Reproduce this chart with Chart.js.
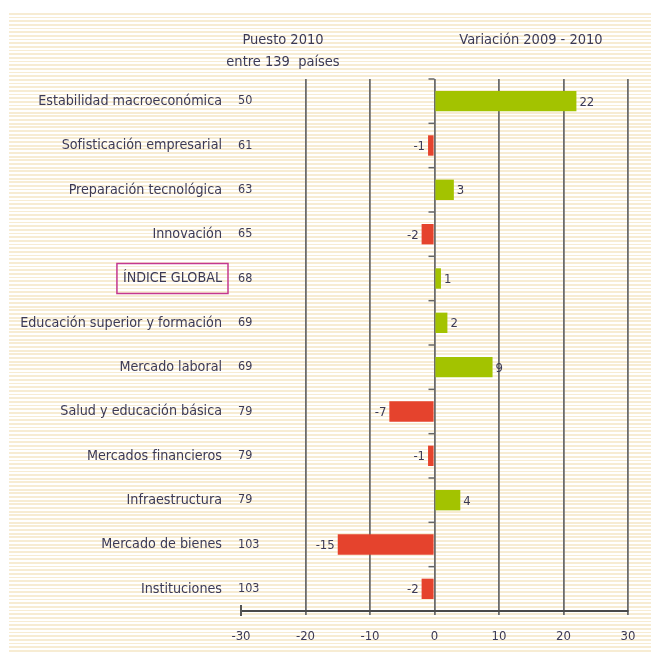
<!DOCTYPE html>
<html lang="es">
<head>
  <meta charset="UTF-8">
  <title>Puesto 2010 y variación 2009 - 2010</title>
  <script src="https://cdn.jsdelivr.net/npm/chart.js"></script>
  <style>
    body { margin: 0; background: #fff; }
    #wrap { position: relative; width: 651px; height: 654px; }
    #stripes {
      position: absolute; left: 9px; top: 13px; width: 642px; height: 641px;
      background: repeating-linear-gradient(to bottom, #f7ecd3 0, #f7ecd3 1.8px, #fff 1.8px, #fff 3.66px);
    }
    canvas { position: absolute; left: 0; top: 0; }
  </style>
</head>
<body>
  <div id="wrap">
    <div id="stripes"></div>
    <canvas id="chart" width="651" height="654"></canvas>
  </div>

  <script>
    const categories = [
      'Estabilidad macroeconómica', 'Sofisticación empresarial', 'Preparación tecnológica',
      'Innovación', 'ÍNDICE GLOBAL', 'Educación superior y formación', 'Mercado laboral',
      'Salud y educación básica', 'Mercados financieros', 'Infraestructura',
      'Mercado de bienes', 'Instituciones'
    ];
    const rank2010 = [50, 61, 63, 65, 68, 69, 69, 79, 79, 79, 103, 103];
    const change = [22, -1, 3, -2, 1, 2, 9, -7, -1, 4, -15, -2];
    const xTicks = [-30, -20, -10, 0, 10, 20, 30];

    const textColor = '#3c3a55';
    const font = "'DejaVu Sans Condensed', 'Liberation Sans Narrow', sans-serif";

    // labels, ranks, value labels, headers and small tick marks
    const extras = {
      id: 'extras',
      afterDatasetsDraw(chart) {
        const { ctx, scales: { x, y } } = chart;
        const x0 = x.getPixelForValue(0);
        ctx.save();
        ctx.fillStyle = textColor;
        ctx.textBaseline = 'middle';

        // headers
        ctx.font = '14.5px ' + font;
        ctx.textAlign = 'center';
        ctx.fillText('Puesto 2010', 283, 40);
        ctx.fillText('entre 139  países', 283, 62);
        ctx.fillText('Variación 2009 - 2010', 531, 40);

        categories.forEach((c, i) => {
          const py = y.getPixelForValue(i);
          ctx.font = '14.2px ' + font;
          ctx.textAlign = 'right';
          ctx.fillText(c, 222, py);
          if (c === 'ÍNDICE GLOBAL') {
            const w = ctx.measureText(c).width;
            ctx.strokeStyle = '#c4388f';
            ctx.lineWidth = 1.5;
            ctx.strokeRect(222 - w - 6, py - 15, w + 12, 30);
          }
          ctx.font = '12.5px ' + font;
          ctx.textAlign = 'left';
          ctx.fillText(rank2010[i], 238, py);

          const v = change[i];
          const px = x.getPixelForValue(v);
          ctx.font = '13px ' + font;
          ctx.textAlign = v >= 0 ? 'left' : 'right';
          ctx.fillText(v, v >= 0 ? px + 3 : px - 3, py + 1);

          // separator ticks on the zero line
          const by = y.getPixelForValue(i - 0.5);
          ctx.strokeStyle = '#666';
          ctx.lineWidth = 1.5;
          ctx.beginPath();
          ctx.moveTo(x0 - 6, by);
          ctx.lineTo(x0, by);
          ctx.stroke();
        });

        // end tick at -30
        const xl = x.getPixelForValue(-30);
        ctx.strokeStyle = '#555';
        ctx.lineWidth = 2;
        ctx.beginPath();
        ctx.moveTo(xl, y.bottom - 6);
        ctx.lineTo(xl, y.bottom + 5);
        ctx.stroke();
        ctx.restore();
      }
    };

    new Chart(document.getElementById('chart'), {
      type: 'bar',
      data: {
        labels: categories,
        datasets: [{
          data: change,
          backgroundColor: change.map(v => v >= 0 ? '#a3c300' : '#e5432d'),
          barPercentage: 0.46,
          categoryPercentage: 1
        }]
      },
      options: {
        indexAxis: 'y',
        responsive: false,
        animation: false,
        layout: { padding: { left: 241, right: 23, top: 79, bottom: 2 } },
        plugins: { legend: { display: false }, tooltip: { enabled: false } },
        scales: {
          x: {
            min: -30,
            max: 30,
            afterBuildTicks: scale => { scale.ticks = xTicks.map(v => ({ value: v })); },
            afterFit: scale => { scale.height = 41; },
            ticks: { color: textColor, font: { family: font, size: 13 }, padding: 14 },
            grid: {
              color: c => c.tick && c.tick.value === -30 ? 'rgba(0,0,0,0)' : '#6c6c6c',
              lineWidth: 1.8,
              tickLength: 4
            },
            border: { display: true, color: '#4a4a4a', width: 2 }
          },
          y: { display: false }
        }
      },
      plugins: [extras]
    });
  </script>
</body>
</html>
